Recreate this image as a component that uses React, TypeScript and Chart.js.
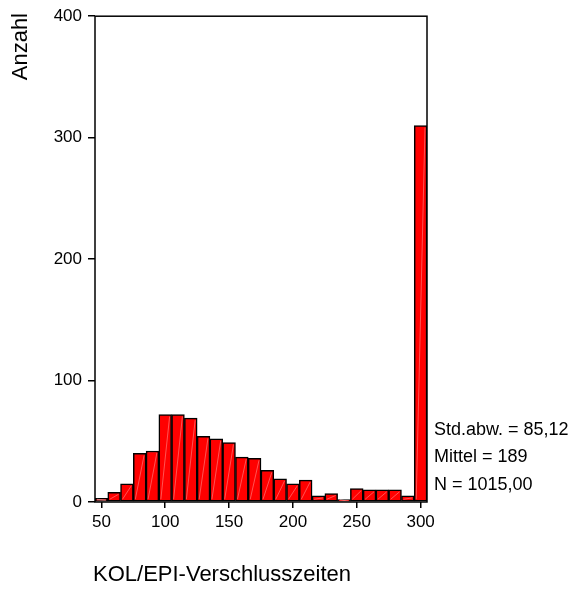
import React, { useEffect, useRef } from "react";
import { Chart, registerables } from "chart.js";

Chart.register(...registerables);

const binCenters = [50, 60, 70, 80, 90, 100, 110, 120, 130, 140, 150, 160, 170, 180, 190, 200, 210, 220, 230, 240, 250, 260, 270, 280, 290, 300];
const counts = [3, 8, 15, 40, 42, 72, 72, 69, 54, 52, 49, 37, 36, 26, 19, 15, 18, 5, 7, 2, 11, 10, 10, 10, 5, 310];
const xTickValues = [50, 100, 150, 200, 250, 300];
const yTickValues = [0, 100, 200, 300, 400];
const xTitle = "KOL/EPI-Verschlusszeiten";
const yTitle = "Anzahl";
const statsLines = ["Std.abw. = 85,12", "Mittel = 189", "N = 1015,00"];

const FONT = "'Liberation Sans', Arial, sans-serif";

const overlayPlugin = {
  id: "overlay",
  afterDatasetsDraw(chart: any) {
    const ctx = chart.ctx;
    const meta = chart.getDatasetMeta(0);
    ctx.save();
    ctx.strokeStyle = "rgba(255,190,190,0.55)";
    ctx.lineWidth = 0.8;
    meta.data.forEach((bar: any) => {
      const p = bar.getProps(["x", "y", "base", "width"], true);
      const l = p.x - p.width / 2 + 2;
      const r = p.x + p.width / 2 - 2;
      ctx.beginPath();
      ctx.moveTo(l, p.base - 2);
      ctx.lineTo(r, p.y + 2);
      ctx.stroke();
    });
    ctx.restore();
  },
  afterDraw(chart: any) {
    const ctx = chart.ctx;
    const a = chart.chartArea;
    ctx.save();
    ctx.strokeStyle = "#000";
    ctx.lineWidth = 1.5;
    ctx.strokeRect(a.left, a.top, a.right - a.left, a.bottom - a.top);
    ctx.fillStyle = "#000";
    ctx.font = `22px ${FONT}`;
    // y title
    ctx.save();
    ctx.translate(21, 13);
    ctx.rotate(-Math.PI / 2);
    ctx.textAlign = "right";
    ctx.textBaseline = "middle";
    ctx.fillText(yTitle, 0, 0);
    ctx.restore();
    // x title
    ctx.font = `22px ${FONT}`;
    ctx.textAlign = "left";
    ctx.textBaseline = "middle";
    ctx.fillText(xTitle, 93, 575);
    // stats
    ctx.font = `18px ${FONT}`;
    statsLines.forEach((s, i) => {
      ctx.fillText(s, 434, 430 + i * 27.5);
    });
    ctx.restore();
  },
};

export default function App() {
  const ref = useRef<HTMLCanvasElement>(null);
  useEffect(() => {
    if (!ref.current) return;
    const chart = new Chart(ref.current, {
      type: "bar",
      data: {
        datasets: [
          {
            data: binCenters.map((x, i) => ({ x, y: counts[i] })),
            backgroundColor: "#ff0000",
            borderColor: "#000000",
            borderWidth: 1.5,
            barPercentage: 1,
            categoryPercentage: 1,
            borderSkipped: false,
          },
        ],
      },
      options: {
        animation: false,
        responsive: false,
        maintainAspectRatio: false,
        layout: { padding: { left: 0, top: 14, right: 144, bottom: 47 } },
        plugins: { legend: { display: false }, tooltip: { enabled: false } },
        scales: {
          x: {
            type: "linear",
            offset: false,
            min: 45,
            max: 305,
            afterBuildTicks: (axis: any) => {
              axis.ticks = xTickValues.map((v) => ({ value: v }));
            },
            afterFit: (axis: any) => {
              axis.height = 40;
            },
            grid: { display: true, offset: false, drawOnChartArea: false, drawTicks: true, tickLength: 6, color: "#000", lineWidth: 1.5 },
            border: { display: false },
            ticks: { color: "#000", font: { family: FONT, size: 17 }, padding: 4, maxRotation: 0, autoSkip: false },
          },
          y: {
            min: 0,
            max: 400,
            afterBuildTicks: (axis: any) => {
              axis.ticks = yTickValues.map((v) => ({ value: v }));
            },
            afterFit: (axis: any) => {
              axis.width = 95;
            },
            grid: { display: true, drawOnChartArea: false, drawTicks: true, tickLength: 7, color: "#000", lineWidth: 1.5 },
            border: { display: false },
            ticks: { color: "#000", font: { family: FONT, size: 17 }, padding: 6, autoSkip: false },
          },
        },
      },
      plugins: [overlayPlugin],
    });
    return () => chart.destroy();
  }, []);
  return (
    <div style={{ position: "fixed", left: 0, top: 0, width: 571, height: 589, background: "#fff" }}>
      <canvas ref={ref} width={571} height={589} style={{ width: 571, height: 589 }} />
    </div>
  );
}
